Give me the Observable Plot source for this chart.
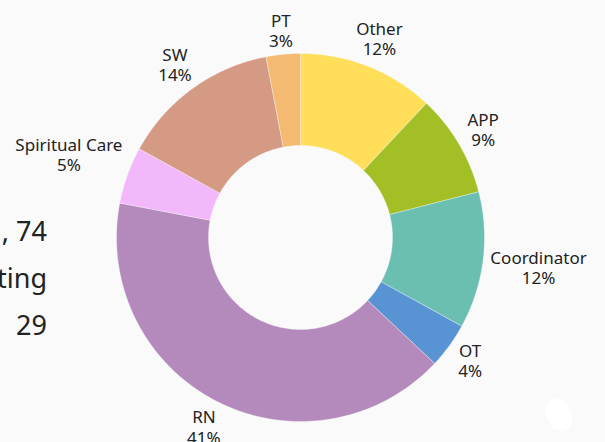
<!DOCTYPE html>
<html>
<head>
<meta charset="utf-8">
<script src="https://cdn.jsdelivr.net/npm/d3@7"></script>
<script src="https://cdn.jsdelivr.net/npm/@observablehq/plot@0.6"></script>
<style>
  html, body { margin: 0; padding: 0; background: #fafafa; width: 605px; height: 442px; overflow: hidden; }
  #wrap { position: relative; width: 605px; height: 442px; }
  #left { position: absolute; right: 558px; top: 207px; text-align: right; font-family: "Noto Sans", sans-serif; font-size: 27px; line-height: 47px; color: #222; white-space: nowrap; }
  #chart { position: absolute; left: 0; top: 0; }
  .blob { position: absolute; background: #fff; border-radius: 50%; }
</style>
</head>
<body>
<div id="wrap">
  <div id="left"></div>
  <div id="chart"></div>
  <div class="blob" style="left:545px;top:399px;width:24px;height:24px;"></div>
  <div class="blob" style="left:550px;top:408px;width:22px;height:23px;"></div>
</div>
<script>
const categories = ["Other", "APP", "Coordinator", "OT", "RN", "Spiritual Care", "SW", "PT"];
const values = [12, 9, 12, 4, 41, 5, 14, 3];
const colors = ["#ffde5a", "#a3bf26", "#6bbfb1", "#5893d4", "#b48abc", "#f2b8fb", "#d59a83", "#f4ba72"];
const leftLines = [", 74", "ting", "29"];

document.getElementById("left").innerHTML = leftLines.map(s => `<div>${s}</div>`).join("");

const R = 184, r0 = 92;
const total = d3.sum(values);
const pts = [];
const labels = [];
const canvas = document.createElement("canvas");
const ctx = canvas.getContext("2d");
ctx.font = "17px 'Noto Sans'";
let acc = 0;
categories.forEach((c, i) => {
  const a0 = acc / total * 2 * Math.PI;
  acc += values[i];
  const a1 = acc / total * 2 * Math.PI;
  const n = Math.max(2, Math.ceil((a1 - a0) / (Math.PI / 180)) + 1);
  const ring = [];
  for (let k = 0; k < n; k++) {
    const a = a0 + (a1 - a0) * k / (n - 1);
    ring.push({cat: c, x: R * Math.sin(a), y: R * Math.cos(a)});
  }
  for (let k = n - 1; k >= 0; k--) {
    const a = a0 + (a1 - a0) * k / (n - 1);
    ring.push({cat: c, x: r0 * Math.sin(a), y: r0 * Math.cos(a)});
  }
  ring.push({...ring[0]});
  pts.push(...ring);
  const am = (a0 + a1) / 2;
  const line2 = `${values[i]}%`;
  const w = Math.max(ctx.measureText(c).width, ctx.measureText(line2).width);
  const rl = 190 + Math.abs(Math.sin(am)) * w / 2 + Math.abs(Math.cos(am)) * 17;
  labels.push({text: `${c}\n${line2}`, x: rl * Math.sin(am), y: rl * Math.cos(am)});
});

const chart = Plot.plot({
  width: 605,
  height: 442,
  margin: 0,
  x: {domain: [-300, 305], axis: null},
  y: {domain: [-205, 237], axis: null},
  color: {domain: categories, range: colors},
  style: {background: "transparent", fontFamily: "'Noto Sans', sans-serif"},
  marks: [
    Plot.line(pts, {x: "x", y: "y", z: "cat", fill: "cat", stroke: "#fafafa", strokeWidth: 0.6, strokeOpacity: 0.6, curve: "linear"}),
    Plot.text(labels, {x: "x", y: "y", text: "text", fontSize: 17, lineHeight: 1.18, fill: "#222", textAnchor: "middle"})
  ]
});
document.getElementById("chart").appendChild(chart);
</script>
</body>
</html>
